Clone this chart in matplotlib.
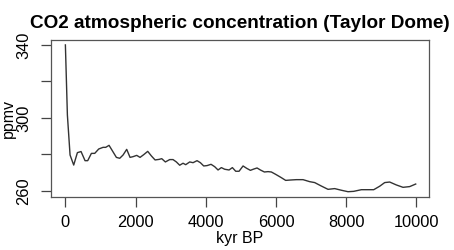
import matplotlib
matplotlib.use('Agg')
import matplotlib.pyplot as plt

# datos (anios BP, ppmv)
anios = [0, 57, 133, 237, 342, 446, 560, 636, 741, 836, 950, 1073, 1149, 1244,
         1339, 1453, 1548, 1643, 1747, 1842, 1928, 2032, 2127, 2232, 2346, 2450,
         2555, 2669, 2745, 2849, 2972, 3067, 3162, 3257, 3352, 3428, 3542, 3637,
         3751, 3846, 3941, 4036, 4150, 4254, 4349, 4444, 4539, 4663, 4758, 4853,
         4948, 5062, 5166, 5271, 5366, 5461, 5556, 5670, 5774, 5869, 5992, 6135,
         6277, 6410, 6581, 6771, 6961, 7103, 7293, 7483, 7673, 7863, 8053, 8215,
         8433, 8623, 8785, 8955, 9098, 9240, 9430, 9620, 9810, 9981]
co2 = [340.0, 301.6, 279.7, 274.2, 281.0, 281.6, 276.6, 276.6, 280.6, 280.6,
       283.0, 283.9, 283.9, 285.0, 282.0, 278.4, 277.9, 279.7, 282.8, 278.4,
       278.8, 279.5, 278.4, 279.9, 281.7, 279.2, 277.0, 277.3, 277.7, 275.9,
       277.2, 277.2, 275.9, 274.1, 275.2, 274.4, 275.9, 275.5, 276.6, 275.5,
       273.7, 273.9, 274.6, 273.3, 271.5, 272.8, 271.9, 271.5, 272.8, 270.8,
       270.8, 273.7, 272.4, 271.3, 272.0, 272.6, 271.5, 270.4, 270.6, 270.4,
       269.1, 267.5, 265.8, 266.0, 266.2, 266.2, 265.1, 264.6, 262.7, 260.9,
       261.3, 260.4, 259.6, 259.8, 260.7, 260.7, 260.7, 262.6, 264.6, 264.9,
       263.3, 262.0, 262.4, 263.8]

xticks = [0, 2000, 4000, 6000, 8000, 10000]
yticks = [260, 280, 300, 320, 340]
ytick_labels = ['260', '', '300', '', '340']

plt.rcParams['font.family'] = ['Liberation Sans', 'DejaVu Sans']

fig = plt.figure(figsize=(4.54, 2.5), dpi=100)
ax = fig.add_axes([51 / 454, 53 / 250, 378 / 454, 157 / 250])

ax.plot(anios, co2, color='#333333', linewidth=1.0)

ax.set_xlim(-410, 10360)
ax.set_ylim(256.7, 342.7)

ax.set_xticks(xticks)
ax.set_xticklabels([str(t) for t in xticks], fontsize=11.8)
ax.set_yticks(yticks)
ax.set_yticklabels(ytick_labels, fontsize=11.8, rotation=90, va='center')

ax.tick_params(direction='out', length=7, width=0.9, colors='#444444',
               labelcolor='black')
ax.tick_params(axis='x', pad=6)
ax.tick_params(axis='y', pad=7)
for s in ax.spines.values():
    s.set_color('#555555')
    s.set_linewidth(0.9)

ax.set_xlabel('kyr BP', fontsize=11.5, va='center')
ax.set_ylabel('ppmv', fontsize=11.5, va='center')
ax.xaxis.set_label_coords(0.5, -0.265)
ax.yaxis.set_label_coords(-0.112, 0.5)
ax.set_title('CO2 atmospheric concentration (Taylor Dome)', fontsize=13.7,
             fontweight='bold', pad=9)

fig.savefig('out.png', dpi=100)
